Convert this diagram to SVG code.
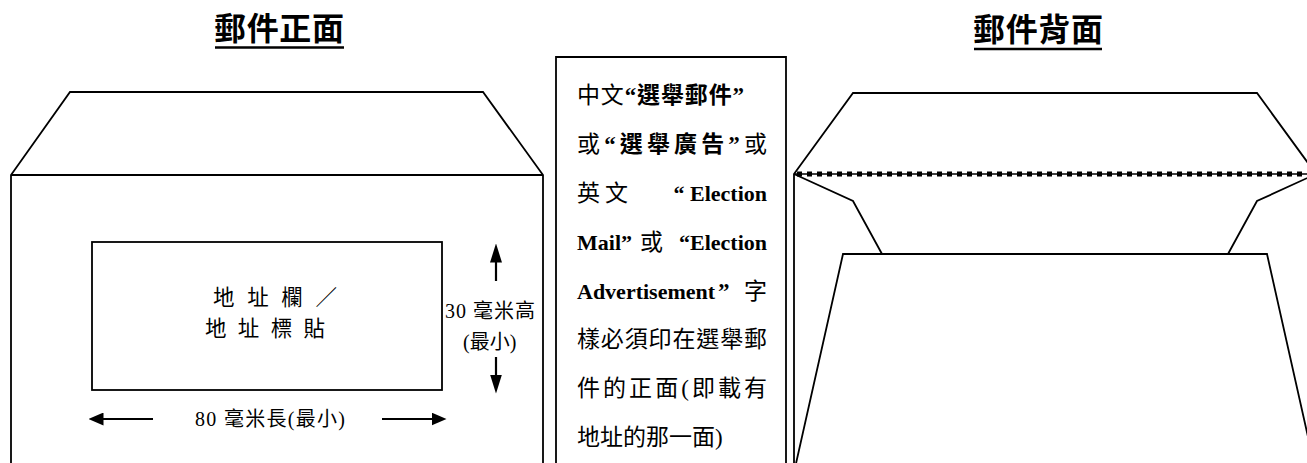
<svg xmlns="http://www.w3.org/2000/svg" width="1307" height="463" viewBox="0 0 1307 463">
<defs>
<style>
.ln{fill:none;stroke:#000;stroke-width:1.8;stroke-linejoin:miter}
.title{font-family:"Noto Sans CJK TC","Noto Sans",sans-serif;font-weight:700;font-size:32px;fill:#000}
.ul{stroke:#000;stroke-width:2.4}
.s{font-family:"Liberation Serif","Noto Sans CJK TC",serif;fill:#000}
.lab{font-size:20px}
.addr{font-size:21.5px}
.note{font-size:23px}
.lat{font-size:22px}
.b{font-weight:700}
.sh{stroke:#000;stroke-width:2.2;fill:none}
</style>
<marker id="hv" viewBox="0 0 19 12" refX="0.5" refY="6" markerWidth="19" markerHeight="12" markerUnits="userSpaceOnUse" orient="auto"><path d="M0,0 L19,6 L0,12 Z" fill="#000"/></marker>
<marker id="hh" viewBox="0 0 15 13" refX="0.5" refY="6.5" markerWidth="15" markerHeight="13" markerUnits="userSpaceOnUse" orient="auto"><path d="M0,0 L15,6.5 L0,13 Z" fill="#000"/></marker>
</defs>
<rect width="1307" height="463" fill="#fff"/>

<g id="title-front">
<text class="title" x="214" y="40" textLength="130" lengthAdjust="spacing">郵件正面</text>
<line class="ul" x1="215" y1="47.5" x2="344" y2="47.5"/>
</g>
<g id="title-back">
<text class="title" x="973" y="41" textLength="130" lengthAdjust="spacing">郵件背面</text>
<line class="ul" x1="974" y1="49" x2="1102" y2="49"/>
</g>

<g id="envelope-front">
<path class="ln" d="M11,470 V175 L70,92 H483 L543,175 V470"/>
<line class="ln" x1="11" y1="175" x2="543" y2="175"/>
</g>

<g id="address-box">
<rect class="ln" x="92" y="242" width="350" height="148"/>
<text class="s addr" x="213" y="305" textLength="124" lengthAdjust="spacing">地 址 欄 ／</text>
<text class="s addr" x="205" y="336" textLength="120" lengthAdjust="spacing">地 址 標 貼</text>
</g>

<g id="height-label">
<text class="s lab" x="445" y="318" textLength="90" lengthAdjust="spacing">30 毫米高</text>
<text class="s lab" x="463" y="349">(最小)</text>
</g>

<g id="width-label">
<text class="s lab" x="195" y="426" textLength="150" lengthAdjust="spacing">80  毫米長(最小)</text>
</g>

<g id="connectors">
<line class="sh" x1="496" y1="281" x2="496" y2="262" marker-end="url(#hv)"/>
<line class="sh" x1="496" y1="357" x2="496" y2="375" marker-end="url(#hv)"/>
<line class="sh" x1="153" y1="419" x2="103" y2="419" marker-end="url(#hh)"/>
<line class="sh" x1="382" y1="419" x2="432" y2="419" marker-end="url(#hh)"/>
</g>

<g id="notice-box">
<path class="ln" d="M556,470 V57 H786 V470"/>
<text class="s note" x="577" y="103" textLength="167" lengthAdjust="spacing">中文<tspan class="b">“選舉郵件”</tspan></text>
<text class="s note" x="577" y="152" textLength="190" lengthAdjust="spacing">或<tspan class="b">“選舉廣告”</tspan>或</text>
<text class="s note" x="577" y="201">英</text>
<text class="s note" x="605" y="201">文</text>
<text class="s lat b" x="767" y="201" text-anchor="end">“ Election</text>
<text class="s lat b" x="577" y="250">Mail”</text>
<text class="s note" x="640" y="250">或</text>
<text class="s lat b" x="767" y="250" text-anchor="end">“Election</text>
<text class="s lat b" x="577" y="299">Advertisement</text>
<text class="s note" x="718" y="299"><tspan class="b">”</tspan></text>
<text class="s note" x="744" y="299">字</text>
<text class="s note" x="577" y="347" textLength="190" lengthAdjust="spacing">樣必須印在選舉郵</text>
<text class="s note" x="577" y="396" textLength="190" lengthAdjust="spacing">件的正面(即載有</text>
<text class="s note" x="577" y="445">地址的那一面)</text>
</g>

<g id="envelope-back">
<path class="ln" d="M794,470 V174 L853,93 H1257 L1316,174"/>
<line x1="794" y1="174" x2="1307" y2="174" stroke="#000" stroke-width="1.6"/>
<line x1="797" y1="174" x2="1307" y2="174" stroke="#000" stroke-width="5" stroke-dasharray="5 5"/>
<path class="ln" d="M794,174 L853,201 L882,254"/>
<path class="ln" d="M1316,174 L1257,201 L1228,254"/>
<path class="ln" d="M795,468 L843,254 H1267 L1315,468"/>
</g>
</svg>
